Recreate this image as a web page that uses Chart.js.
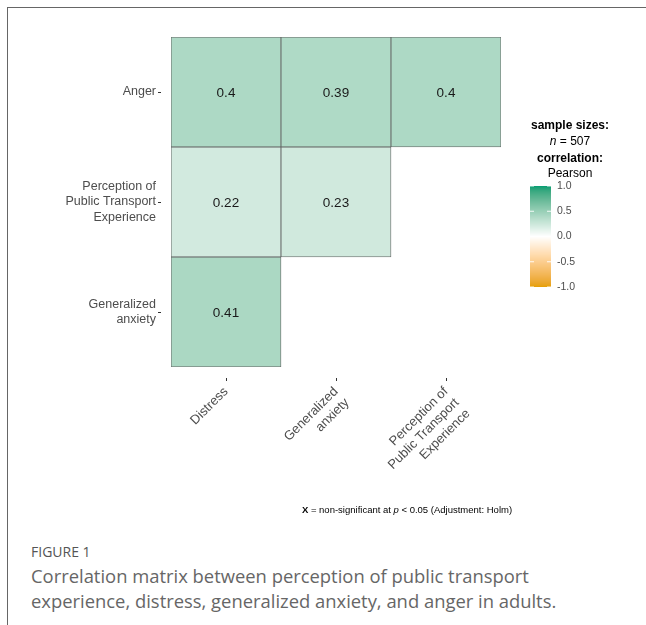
<!DOCTYPE html>
<html>
<head>
<meta charset="utf-8">
<script src="https://cdn.jsdelivr.net/npm/chart.js@4/dist/chart.umd.min.js"></script>
<style>
  html, body { margin: 0; padding: 0; background: #fff; }
  body { width: 646px; height: 625px; position: relative; overflow: hidden; }
  #frame {
    position: absolute; left: 7px; top: 7px; width: 700px; height: 700px;
    border-left: 1.5px solid #666; border-top: 1.5px solid #666;
  }
  #chartWrap { position: absolute; left: 0; top: 0; width: 646px; height: 530px; }
  #figLabel {
    position: absolute; left: 31px; top: 542px;
    font-family: "Open Sans", sans-serif; font-size: 14px; color: #555;
  }
  #caption {
    position: absolute; left: 31px; top: 563px; width: 600px;
    font-family: "Open Sans", sans-serif; font-size: 18.4px; line-height: 25px; color: #666;
  }
</style>
</head>
<body>
<div id="frame"></div>
<div id="chartWrap"><canvas id="corrChart" width="646" height="530"></canvas></div>
<div id="figLabel">FIGURE 1</div>
<div id="caption">Correlation matrix between perception of public transport<br>experience, distress, generalized anxiety, and anger in adults.</div>

<script>
// Columns of the matrix (x axis)
const xVars = ['Distress', 'Generalized\nanxiety', 'Perception of\nPublic Transport\nExperience'];
// Rows of the matrix, bottom to top (y axis)
const yVars = ['Generalized\nanxiety', 'Perception of\nPublic Transport\nExperience', 'Anger'];

// Pearson r per row (null = empty cell in the lower triangle)
const rGeneralizedAnxiety = [0.41, null, null];
const rPerception = [0.22, 0.23, null];
const rAnger = [0.4, 0.39, 0.4];

// Legend
const sampleSize = 507;
const legendTicks = [1.0, 0.5, 0.0, -0.5, -1.0];

const lowColor = '#E69F00';
const midColor = '#FFFFFF';
const highColor = '#009E73';

// --- colour helpers (gradient interpolated in Lab, like ggplot) ---
function hexToRgb(hex) {
    const n = parseInt(hex.slice(1), 16);
    return [(n >> 16) & 255, (n >> 8) & 255, n & 255];
}
function toLinear(c) {
    c = c / 255;
    return c <= 0.04045 ? c / 12.92 : Math.pow((c + 0.055) / 1.055, 2.4);
}
function fromLinear(c) {
    const v = c <= 0.0031308 ? 12.92 * c : 1.055 * Math.pow(c, 1 / 2.4) - 0.055;
    return Math.max(0, Math.min(255, Math.round(v * 255)));
}
function rgbToLab(rgb) {
    const [r, g, b] = rgb.map(toLinear);
    const x = (r * 0.4124 + g * 0.3576 + b * 0.1805) / 0.95047;
    const y = r * 0.2126 + g * 0.7152 + b * 0.0722;
    const z = (r * 0.0193 + g * 0.1192 + b * 0.9505) / 1.08883;
    const f = t => t > 0.008856 ? Math.cbrt(t) : 7.787 * t + 16 / 116;
    return [116 * f(y) - 16, 500 * (f(x) - f(y)), 200 * (f(y) - f(z))];
}
function labToRgb(lab) {
    const fy = (lab[0] + 16) / 116;
    const fx = fy + lab[1] / 500;
    const fz = fy - lab[2] / 200;
    const inv = t => t * t * t > 0.008856 ? t * t * t : (t - 16 / 116) / 7.787;
    const x = inv(fx) * 0.95047, y = inv(fy), z = inv(fz) * 1.08883;
    const r = 3.2406 * x - 1.5372 * y - 0.4986 * z;
    const g = -0.9689 * x + 1.8758 * y + 0.0415 * z;
    const b = 0.0557 * x - 0.2040 * y + 1.0570 * z;
    return [fromLinear(r), fromLinear(g), fromLinear(b)];
}
const labLow = rgbToLab(hexToRgb(lowColor));
const labMid = rgbToLab(hexToRgb(midColor));
const labHigh = rgbToLab(hexToRgb(highColor));

function colorFor(v) {
    const end = v >= 0 ? labHigh : labLow;
    const t = Math.min(1, Math.abs(v));
    const lab = labMid.map((m, i) => m + (end[i] - m) * t);
    const rgb = labToRgb(lab);
    return 'rgb(' + rgb.join(',') + ')';
}

// --- build one dataset per row ---
const rows = [rGeneralizedAnxiety, rPerception, rAnger];
const datasets = rows.map((vals, i) => ({
    label: yVars[i],
    data: vals.map(v => v === null ? null : [i, i + 1]),
    rValues: vals,
    backgroundColor: vals.map(v => v === null ? 'transparent' : colorFor(v)),
    borderColor: '#616161',
    borderWidth: 0.8,
    borderSkipped: false,
    grouped: false,
    barPercentage: 1,
    categoryPercentage: 1
}));

const labelFont = "'Liberation Sans', Arial, Helvetica, sans-serif";

// draws cell values, axis ticks, legend and footnote
const corrDecor = {
    id: 'corrDecor',
    afterDatasetsDraw(chart) {
        const ctx = chart.ctx;
        const area = chart.chartArea;
        ctx.save();

        // cell values
        ctx.font = '13.5px ' + labelFont;
        ctx.fillStyle = '#1a1a1a';
        ctx.textAlign = 'center';
        ctx.textBaseline = 'middle';
        chart.data.datasets.forEach((ds, di) => {
            const meta = chart.getDatasetMeta(di);
            meta.data.forEach((bar, j) => {
                const v = ds.rValues[j];
                if (v === null) return;
                const c = bar.getCenterPoint();
                ctx.fillText(String(v), c.x, c.y + 1);
            });
        });

        // small axis tick marks, detached from the panel
        ctx.strokeStyle = '#333';
        ctx.lineWidth = 1;
        const xs = chart.scales.x, ys = chart.scales.y;
        xs.ticks.forEach((t, i) => {
            const px = Math.round(xs.getPixelForTick(i)) + 0.5;
            ctx.beginPath();
            ctx.moveTo(px, area.bottom + 11);
            ctx.lineTo(px, area.bottom + 14);
            ctx.stroke();
        });
        ys.ticks.forEach((t, i) => {
            const py = Math.round(ys.getPixelForTick(i)) + 0.5;
            ctx.beginPath();
            ctx.moveTo(area.left - 13, py);
            ctx.lineTo(area.left - 10, py);
            ctx.stroke();
        });

        // legend
        const lx = area.right + 69;
        ctx.textAlign = 'left';
        ctx.textBaseline = 'middle';
        ctx.fillStyle = '#000';
        function centered(y, parts) {
            let w = 0;
            parts.forEach(p => { ctx.font = p[1]; w += ctx.measureText(p[0]).width; });
            let x = lx - w / 2;
            parts.forEach(p => { ctx.font = p[1]; ctx.fillText(p[0], x, y); x += ctx.measureText(p[0]).width; });
        }
        centered(126, [['sample sizes:', 'bold 12px ' + labelFont]]);
        centered(142, [['n', 'italic 12px ' + labelFont], [' = ' + sampleSize, '12px ' + labelFont]]);
        centered(159, [['correlation:', 'bold 12px ' + labelFont]]);
        centered(174, [['Pearson', '12px ' + labelFont]]);

        const barX = area.right + 29, barW = 21, barTop = 186, barH = 101;
        for (let k = 0; k < barH; k++) {
            const v = 1 - 2 * (k + 0.5) / barH;
            ctx.fillStyle = colorFor(v);
            ctx.fillRect(barX, barTop + k, barW, 1);
        }
        ctx.font = '10.5px ' + labelFont;
        legendTicks.forEach(v => {
            const y = barTop + (1 - v) / 2 * barH;
            ctx.strokeStyle = 'rgba(255,255,255,0.9)';
            ctx.beginPath();
            ctx.moveTo(barX, y); ctx.lineTo(barX + 4, y);
            ctx.moveTo(barX + barW - 4, y); ctx.lineTo(barX + barW, y);
            ctx.stroke();
            ctx.fillStyle = '#4d4d4d';
            ctx.fillText(v.toFixed(1), barX + barW + 6, y);
        });

        // footnote
        ctx.fillStyle = '#000';
        const fy = 510, fcx = 407;
        const parts = [
            ['X', 'bold 9.5px ' + labelFont],
            [' = non-significant at ', '9.5px ' + labelFont],
            ['p', 'italic 9.5px ' + labelFont],
            [' < 0.05 (Adjustment: Holm)', '9.5px ' + labelFont]
        ];
        let fw = 0;
        parts.forEach(p => { ctx.font = p[1]; fw += ctx.measureText(p[0]).width; });
        let fx = fcx - fw / 2;
        parts.forEach(p => { ctx.font = p[1]; ctx.fillText(p[0], fx, fy); fx += ctx.measureText(p[0]).width; });

        ctx.restore();
    }
};

function createCorrChart() {
    const ctx = document.getElementById('corrChart').getContext('2d');
    new Chart(ctx, {
        type: 'bar',
        data: { labels: xVars, datasets: datasets },
        options: {
            responsive: false,
            animation: false,
            layout: { padding: { top: 37, right: 145, left: 0, bottom: 0 } },
            plugins: { legend: { display: false }, tooltip: { enabled: false } },
            scales: {
                x: {
                    type: 'category',
                    offset: true,
                    grid: { display: false, drawTicks: false },
                    border: { display: false },
                    afterFit(scale) { scale.height = 163; },
                    ticks: {
                        autoSkip: false,
                        maxRotation: 45,
                        minRotation: 45,
                        padding: 17,
                        color: '#4d4d4d',
                        font: { family: labelFont, size: 13 },
                        callback(value) { return xVars[value].split('\n'); }
                    }
                },
                y: {
                    type: 'linear',
                    min: 0,
                    max: yVars.length,
                    grid: { display: false, drawTicks: false },
                    border: { display: false },
                    afterFit(scale) { scale.width = 171; },
                    afterBuildTicks(scale) {
                        scale.ticks = yVars.map((_, i) => ({ value: i + 0.5 }));
                    },
                    ticks: {
                        padding: 15,
                        color: '#4d4d4d',
                        font: { family: labelFont, size: 12.5, lineHeight: 1.27 },
                        callback(value) { return yVars[Math.floor(value)].split('\n'); }
                    }
                }
            }
        },
        plugins: [corrDecor]
    });
}

document.addEventListener('DOMContentLoaded', createCorrChart);
</script>
</body>
</html>
